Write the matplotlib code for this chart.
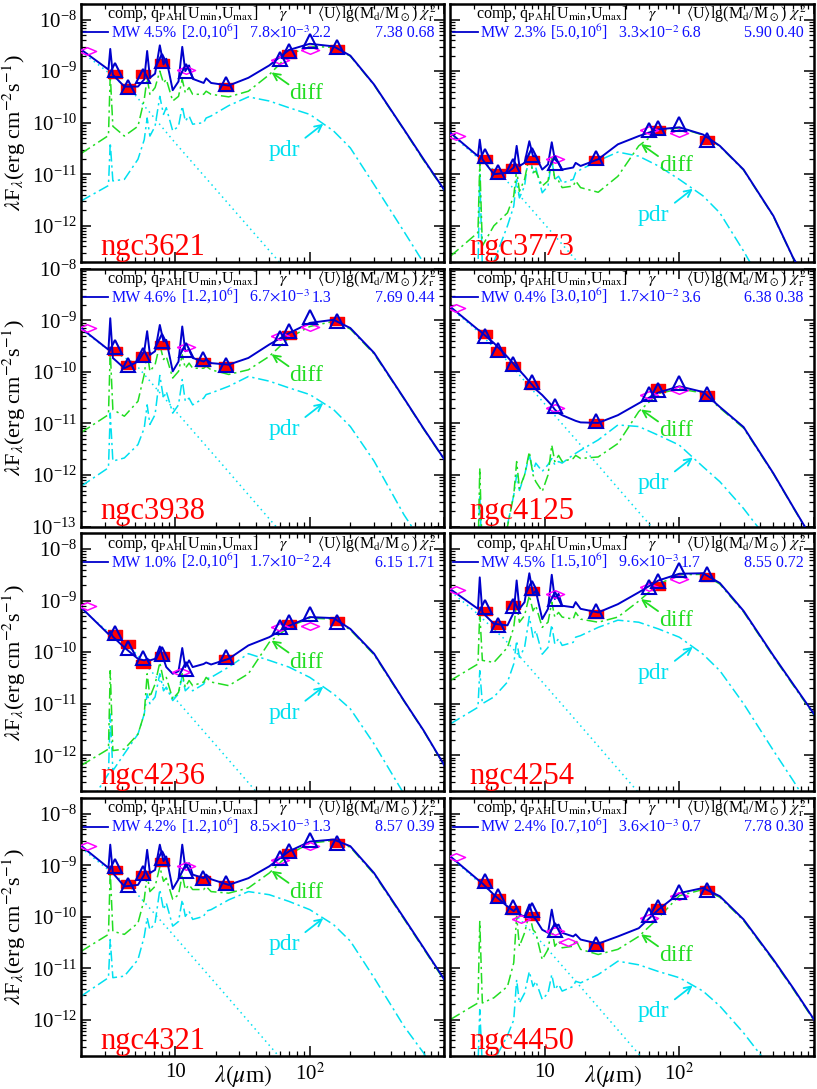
import numpy as np
import matplotlib.pyplot as plt
from matplotlib.lines import Line2D
from matplotlib.ticker import LogLocator, FuncFormatter, NullFormatter

plt.rcParams['font.family'] = ['Liberation Serif', 'DejaVu Serif']
plt.rcParams['mathtext.fontset'] = 'stix'

# wavelength grid (micron) the model curves were read on
wave = [2.0, 3.2, 3.3, 3.45, 4.2, 5.3, 5.9, 6.2, 6.5, 7.1, 7.7, 8.2, 8.6, 9.6, 10.6, 11.3,
        11.9, 12.7, 13.5, 16.3, 17.0, 18.5, 25, 35, 50, 70, 100, 150, 200, 300, 500, 700, 1000]
wave_star = [2, 3, 5, 10, 20, 50, 100]

# photometric bands (micron)
bands_sq = [3.6, 4.5, 5.8, 8.0, 24, 70, 160]
bands_sq16 = [3.6, 4.5, 5.8, 8.0, 16, 24, 70, 160]
bands_tri = [3.6, 4.5, 5.8, 8.0, 12, 24, 60, 70, 100, 160]
bands_tri16 = [3.6, 4.5, 5.8, 8.0, 12, 16, 24, 60, 70, 100, 160]
bands_dia = [2.2, 12, 60, 100]

# all fluxes below are log10(lambda F_lambda / erg cm^-2 s^-1)
# ngc3621
tot_3621 = [-8.58, -8.97, -8.57, -9.07, -9.30, -9.30, -9.16, -8.61, -9.13, -9.05, -8.50, -8.87, -8.76, -9.37, -9.20, -8.53,
            -9.00, -8.89, -9.15, -9.23, -9.14, -9.23, -9.28, -9.13, -8.89, -8.59, -8.47, -8.52, -8.70, -9.26, -10.13, -10.71, -11.31]
diff_3621 = [-10.60, -10.25, -9.07, -10.07, -10.26, -10.07, -9.55, -9.13, -9.45, -9.32, -9.00, -9.23, -9.16, -9.58, -9.49, -9.16,
             -9.42, -9.32, -9.45, -9.45, -9.39, -9.45, -9.50, -9.39, -9.07, -8.68, -8.52, -8.54, -8.71, -9.27, -10.14, -10.73, -11.32]
pdr_3621 = [-11.52, -11.22, -10.39, -11.13, -11.10, -10.71, -10.33, -9.91, -10.26, -10.07, -9.49, -9.84, -9.71, -10.16, -10.07, -9.68,
            -9.97, -9.87, -10.03, -10.00, -9.91, -9.87, -9.67, -9.50, -9.58, -9.71, -9.84, -10.16, -10.49, -11.20, -12.11, -12.72, -13.43]
star_3621 = [-8.62, -8.97, -9.45, -10.39, -11.29, -12.48, -13.38]
sq_3621 = [-9.05, -9.32, -9.05, -8.85, -9.31, -8.66, -8.57]
tri_3621 = [-8.97, -9.30, -9.09, -8.81, -9.00, -9.25, -8.76, -8.61, -8.42, -8.54]
dia_3621 = [-8.61, -8.97, -8.79, -8.59]

# ngc3773
tot_3773 = [-10.20, -10.65, -10.33, -10.71, -11.00, -10.97, -10.87, -10.45, -10.84, -10.78, -10.36, -10.65, -10.65, -10.91, -10.81, -10.38,
            -10.71, -10.78, -10.91, -10.87, -10.78, -10.84, -10.71, -10.42, -10.26, -10.13, -10.09, -10.23, -10.45, -10.91, -11.81, -12.62, -13.30]
diff_3773 = [-12.59, -12.13, -10.78, -12.39, -12.00, -11.75, -11.42, -10.91, -11.33, -11.10, -10.65, -10.97, -10.94, -11.23, -11.13, -10.68,
             -11.10, -11.13, -11.26, -11.23, -11.13, -11.26, -11.35, -11.04, -10.45, -10.16, -10.10, -10.24, -10.46, -10.92, -11.82, -12.63, -13.31]
pdr_3773 = [-13.0, -12.9, -11.0, -12.8, -12.7, -12.0, -11.62, -11.10, -11.46, -11.23, -10.55, -10.97, -10.87, -11.36, -11.23, -10.71,
            -11.10, -11.04, -11.17, -11.10, -10.97, -10.91, -10.74, -10.57, -10.65, -10.84, -11.10, -11.42, -11.75, -12.49, -13.5, -14.0, -14.5]
star_3773 = [-10.22, -10.62, -11.07, -11.97, -12.87, -14.06, -14.96]
sq_3773 = [-10.70, -10.98, -10.87, -10.73, -10.73, -10.14, -10.33]
tri_3773 = [-10.65, -10.96, -10.84, -10.62, -10.79, -10.69, -10.15, -10.10, -10.03, -10.33]
dia_3773 = [-10.26, -10.71, -10.15, -10.20]

# ngc3938
tot_3938 = [-9.15, -9.57, -8.96, -9.73, -9.93, -9.80, -9.60, -9.21, -9.67, -9.60, -9.09, -9.41, -9.38, -9.99, -9.80, -9.12,
            -9.60, -9.57, -9.73, -9.80, -9.76, -9.83, -9.86, -9.73, -9.47, -9.25, -9.05, -8.99, -9.15, -9.63, -10.51, -11.10, -11.70]
diff_3938 = [-11.18, -10.83, -9.60, -10.73, -10.86, -10.57, -10.05, -9.60, -9.99, -9.86, -9.47, -9.76, -9.70, -10.12, -9.99, -9.67,
             -9.93, -9.83, -9.93, -9.93, -9.89, -9.96, -10.05, -9.96, -9.70, -9.34, -9.12, -9.02, -9.17, -9.65, -10.52, -11.11, -11.71]
pdr_3938 = [-12.22, -11.86, -10.80, -11.73, -11.67, -11.41, -11.09, -10.64, -11.02, -10.83, -10.07, -10.51, -10.38, -10.80, -10.64, -10.15,
            -10.57, -10.51, -10.64, -10.51, -10.44, -10.41, -10.28, -10.09, -10.18, -10.31, -10.44, -10.73, -11.06, -11.73, -12.77, -13.35, -14.0]
star_3938 = [-9.17, -9.52, -9.83, -10.75, -11.65, -12.85, -13.75]
sq_3938 = [-9.59, -9.87, -9.70, -9.47, -9.81, -9.89, -9.28, -9.02]
tri_3938 = [-9.51, -9.86, -9.68, -9.41, -9.57, -9.76, -9.86, -9.34, -9.21, -8.94, -9.01]
dia_3938 = [-9.15, -9.52, -9.31, -9.12]

# ngc4125
tot_4125 = [-8.74, -9.18, -9.20, -9.25, -9.44, -9.71, -9.85, -9.92, -9.97, -10.08, -10.19, -10.27, -10.34, -10.45, -10.57, -10.65,
            -10.73, -10.80, -10.84, -10.93, -10.95, -10.98, -10.99, -10.84, -10.61, -10.40, -10.28, -10.39, -10.68, -11.07, -11.97, -12.62, -13.30]
diff_4125 = [-14.0, -13.6, -11.87, -13.6, -13.4, -13.0, -12.39, -11.74, -12.26, -12.00, -11.55, -12.00, -12.13, -12.32, -12.00, -11.42,
             -11.74, -11.62, -11.74, -11.68, -11.62, -11.68, -11.65, -11.39, -10.77, -10.42, -10.33, -10.41, -10.70, -11.09, -11.98, -12.63, -13.31]
pdr_4125 = [-14.0, -13.8, -12.39, -13.8, -13.6, -12.97, -12.39, -12.00, -12.30, -12.00, -11.61, -11.93, -11.77, -11.93, -11.80, -11.68,
            -11.80, -11.74, -11.77, -11.61, -11.58, -11.52, -11.32, -11.03, -11.06, -11.23, -11.42, -11.84, -12.13, -12.65, -13.4, -14.0, -14.5]
star_4125 = [-8.76, -9.15, -9.72, -10.62, -11.52, -12.72, -13.62]
sq_4125 = [-9.27, -9.59, -9.89, -10.26, -10.99, -10.32, -10.45]
tri_4125 = [-9.30, -9.57, -9.85, -10.19, -10.66, -10.95, -10.42, -10.36, -10.22, -10.42]
dia_4125 = [-8.76, -10.71, -10.45, -10.36]

# ngc4236
tot_4236 = [-9.13, -9.65, -9.60, -9.70, -9.91, -10.13, -10.16, -10.13, -10.16, -10.13, -9.89, -10.13, -10.29, -10.42, -10.37, -9.92,
            -10.29, -10.16, -10.29, -10.23, -10.20, -10.24, -10.13, -9.87, -9.71, -9.49, -9.32, -9.34, -9.55, -10.03, -10.94, -11.52, -12.20]
diff_4236 = [-12.20, -11.88, -10.36, -11.91, -11.88, -11.59, -11.20, -10.42, -10.87, -10.62, -10.20, -10.55, -10.49, -10.91, -10.78, -10.42,
             -10.68, -10.55, -10.65, -10.58, -10.49, -10.58, -10.65, -10.42, -9.81, -9.51, -9.34, -9.36, -9.57, -10.05, -10.95, -11.53, -12.21]
pdr_4236 = [-13.2, -12.36, -11.20, -12.30, -11.97, -11.59, -11.20, -10.81, -11.00, -10.87, -10.42, -10.75, -10.68, -10.94, -10.81, -10.45,
            -10.75, -10.68, -10.75, -10.62, -10.52, -10.49, -10.29, -10.03, -10.16, -10.29, -10.49, -10.81, -11.10, -11.78, -12.75, -13.3, -14.0]
star_4236 = [-9.15, -9.55, -10.0, -10.9, -11.8, -13.0, -13.9]
sq_4236 = [-9.65, -9.84, -10.23, -10.07, -10.13, -9.45, -9.39]
tri_4236 = [-9.63, -9.92, -10.11, -10.03, -10.33, -10.09, -9.52, -9.42, -9.27, -9.41]
dia_4236 = [-9.10, -10.39, -9.51, -9.49]

# ngc4254
tot_4254 = [-8.78, -9.16, -8.55, -9.23, -9.45, -9.48, -9.23, -8.61, -9.16, -9.03, -8.47, -8.87, -8.81, -9.36, -9.16, -8.50,
            -8.97, -8.87, -9.10, -9.13, -9.03, -9.16, -9.23, -9.07, -8.84, -8.61, -8.48, -8.47, -8.66, -9.20, -10.07, -10.62, -11.20]
diff_4254 = [-10.55, -10.23, -9.23, -10.16, -10.20, -9.91, -9.52, -9.03, -9.42, -9.29, -8.90, -9.20, -9.10, -9.52, -9.42, -9.03,
             -9.32, -9.23, -9.32, -9.36, -9.23, -9.36, -9.42, -9.32, -9.01, -8.68, -8.50, -8.49, -8.68, -9.22, -10.09, -10.64, -11.22]
pdr_4254 = [-11.39, -11.07, -10.36, -11.00, -10.87, -10.58, -10.23, -9.78, -10.10, -9.91, -9.31, -9.71, -9.58, -10.04, -9.91, -9.47,
            -9.84, -9.74, -9.87, -9.81, -9.71, -9.68, -9.52, -9.38, -9.42, -9.55, -9.71, -10.04, -10.36, -11.00, -11.91, -12.49, -13.14]
star_4254 = [-8.82, -9.2, -9.74, -10.63, -11.53, -12.73, -13.63]
sq_4254 = [-9.21, -9.47, -9.08, -8.81, -9.27, -8.71, -8.54]
tri_4254 = [-9.13, -9.47, -9.10, -8.76, -8.96, -9.20, -8.74, -8.63, -8.41, -8.49]
dia_4254 = [-8.79, -8.87, -8.73, -8.58]

# ngc4321
tot_4321 = [-8.62, -9.05, -8.60, -9.15, -9.41, -9.38, -9.18, -8.70, -9.15, -9.09, -8.60, -8.92, -8.83, -9.46, -9.27, -8.60,
            -9.05, -8.96, -9.18, -9.25, -9.18, -9.27, -9.38, -9.25, -9.02, -8.73, -8.54, -8.50, -8.63, -9.15, -10.02, -10.60, -11.22]
diff_4321 = [-10.67, -10.34, -9.12, -10.28, -10.34, -10.12, -9.66, -9.18, -9.51, -9.41, -9.03, -9.31, -9.25, -9.66, -9.57, -9.18,
             -9.47, -9.38, -9.47, -9.47, -9.41, -9.51, -9.54, -9.44, -9.15, -8.79, -8.57, -8.52, -8.65, -9.17, -10.04, -10.62, -11.24]
pdr_4321 = [-11.54, -11.18, -10.44, -11.18, -11.15, -10.83, -10.38, -10.02, -10.25, -10.12, -9.47, -9.86, -9.73, -10.18, -10.09, -9.67,
            -9.99, -9.89, -10.05, -9.99, -9.89, -9.86, -9.67, -9.51, -9.57, -9.70, -9.86, -10.15, -10.47, -11.18, -12.12, -12.64, -13.4]
star_4321 = [-8.66, -9.03, -9.5, -10.39, -11.29, -12.49, -13.39]
sq_4321 = [-9.09, -9.36, -9.18, -8.94, -9.28, -9.38, -8.76, -8.57]
tri_4321 = [-9.01, -9.38, -9.14, -8.86, -9.12, -9.25, -9.34, -8.86, -8.73, -8.50, -8.56]
dia_4321 = [-8.63, -9.02, -8.89, -8.63]

# ngc4450
tot_4450 = [-8.83, -9.28, -9.31, -9.35, -9.57, -9.80, -9.89, -9.82, -9.96, -9.99, -9.76, -9.99, -10.05, -10.25, -10.31, -9.86,
            -10.18, -10.15, -10.31, -10.38, -10.34, -10.44, -10.52, -10.38, -10.22, -9.86, -9.54, -9.44, -9.60, -10.05, -10.83, -11.38, -11.99]
diff_4450 = [-11.99, -11.67, -10.09, -11.67, -11.57, -11.35, -10.89, -9.99, -10.57, -10.31, -9.93, -10.25, -10.31, -10.83, -10.63, -10.22,
             -10.57, -10.47, -10.60, -10.57, -10.44, -10.63, -10.73, -10.63, -10.38, -10.02, -9.59, -9.47, -9.62, -10.07, -10.85, -11.40, -12.01]
pdr_4450 = [-13.2, -12.9, -11.8, -12.9, -12.8, -12.3, -12.0, -11.22, -11.67, -11.48, -11.06, -11.35, -11.25, -11.60, -11.48, -11.12,
            -11.41, -11.31, -11.44, -11.35, -11.25, -11.28, -11.12, -10.86, -10.93, -11.06, -11.18, -11.44, -11.73, -12.25, -13.0, -13.6, -14.2]
star_4450 = [-8.84, -9.25, -9.72, -10.56, -11.46, -12.66, -13.56]
sq_4450 = [-9.34, -9.63, -9.86, -9.98, -10.57, -9.83, -9.47]
tri_4450 = [-9.31, -9.60, -9.80, -9.86, -10.25, -10.52, -9.96, -9.81, -9.51, -9.47]
dia_4450 = [-8.83, -10.05, -10.27, -10.49, -10.02, -9.60]

galaxies = ['ngc3621', 'ngc3773', 'ngc3938', 'ngc4125', 'ngc4236', 'ngc4254', 'ngc4321', 'ngc4450']
totals = [tot_3621, tot_3773, tot_3938, tot_4125, tot_4236, tot_4254, tot_4321, tot_4450]
diffs = [diff_3621, diff_3773, diff_3938, diff_4125, diff_4236, diff_4254, diff_4321, diff_4450]
pdrs = [pdr_3621, pdr_3773, pdr_3938, pdr_4125, pdr_4236, pdr_4254, pdr_4321, pdr_4450]
stars = [star_3621, star_3773, star_3938, star_4125, star_4236, star_4254, star_4321, star_4450]
sq_vals = [sq_3621, sq_3773, sq_3938, sq_4125, sq_4236, sq_4254, sq_4321, sq_4450]
sq_bands = [bands_sq, bands_sq, bands_sq16, bands_sq, bands_sq, bands_sq, bands_sq16, bands_sq]
tri_vals = [tri_3621, tri_3773, tri_3938, tri_4125, tri_4236, tri_4254, tri_4321, tri_4450]
tri_bands = [bands_tri, bands_tri, bands_tri16, bands_tri, bands_tri, bands_tri, bands_tri16, bands_tri]
dia_vals = [dia_3621, dia_3773, dia_3938, dia_4125, dia_4236, dia_4254, dia_4321, dia_4450]
dia_bands = [bands_dia, bands_dia, bands_dia, bands_dia, [2.2, 11, 60, 100], bands_dia, bands_dia,
             [2.2, 6.7, 12, 15, 60, 100]]

# fit parameters in the panel headers
qpah = [4.5, 2.3, 4.6, 0.4, 1.0, 4.5, 4.2, 2.4]
umin = [2.0, 5.0, 1.2, 3.0, 2.0, 1.5, 1.2, 0.7]
gamma = [7.8e-3, 3.3e-2, 6.7e-3, 1.7e-2, 1.7e-2, 9.6e-3, 8.5e-3, 3.6e-3]
u_mean = [2.2, 6.8, 1.3, 3.6, 2.4, 1.7, 1.3, 0.7]
log_md = [7.38, 5.90, 7.69, 6.38, 6.15, 8.55, 8.57, 7.78]
chi2 = [0.68, 0.40, 0.44, 0.38, 1.71, 0.72, 0.39, 0.30]

row_ylims = [(2e-13, 2e-8), (1e-13, 1e-8), (2e-13, 2e-8), (2e-13, 2e-8)]

C_TOT = '#0000cc'
C_TXT = '#1010ff'
C_DIFF = '#22dd22'
C_PDR = '#00e0f0'
C_DIA = '#ff00ff'
C_SQ = '#ff0000'

rect_marker = [(-1, -0.55), (1, -0.55), (1, 0.55), (-1, 0.55), (-1, -0.55)]
dia_marker = [(-1, 0), (0, 0.42), (1, 0), (0, -0.42), (-1, 0)]
dashdot = (0, (7, 2.5, 1.5, 2.5))
HS = 11.5  # header font size


def pw(vals):
    return 10.0 ** np.asarray(vals, dtype=float)


def xfmt(v, pos):
    return {10: '10', 100: r'10$^2$'}.get(int(round(v)), '')


fig = plt.figure(figsize=(8.17, 10.89), dpi=100)
gs = fig.add_gridspec(4, 2, left=0.0991, right=0.9963, top=0.9963, bottom=0.0303,
                      wspace=0.0165, hspace=0.027)

for i, name in enumerate(galaxies):
    row, col = divmod(i, 2)
    ax = fig.add_subplot(gs[row, col])
    ax.set_xscale('log')
    ax.set_yscale('log')

    ax.plot(wave_star, pw(stars[i]), color=C_PDR, lw=1.1, ls=(0, (1, 2.5)), zorder=2)
    ax.plot(wave, pw(pdrs[i]), color=C_PDR, lw=1.1, ls=dashdot, zorder=2)
    ax.plot(wave, pw(diffs[i]), color=C_DIFF, lw=1.1, ls=dashdot, zorder=2.5)
    ax.plot(sq_bands[i], pw(sq_vals[i]), ls='none', marker=rect_marker, ms=10.5,
            mfc=C_SQ, mec=C_SQ, zorder=3)
    ax.plot(wave, pw(totals[i]), color=C_TOT, lw=1.4, zorder=4)
    ax.plot(dia_bands[i], pw(dia_vals[i]), ls='none', marker=dia_marker, ms=13,
            mfc='none', mec=C_DIA, mew=1.1, zorder=5)
    ax.plot(tri_bands[i], pw(tri_vals[i]), ls='none', marker='^', ms=10,
            mfc='none', mec=C_TOT, mew=1.5, zorder=6)

    lo, hi = row_ylims[row]

    # arrows to the components
    lw_log = np.log10(wave)
    y_diff = 10 ** np.interp(np.log10(52), lw_log, diffs[i])
    y_pdr = 10 ** np.interp(np.log10(126), lw_log, pdrs[i])
    ax.annotate('', xy=(52, y_diff), xytext=(17, -12), textcoords='offset pixels',
                arrowprops=dict(arrowstyle='->,head_length=0.5,head_width=0.25', color=C_DIFF,
                                lw=1.3, shrinkA=0, shrinkB=0), zorder=7)
    ax.annotate('diff', xy=(52, y_diff), xytext=(18, -27), textcoords='offset pixels',
                color=C_DIFF, fontsize=17, va='baseline', ha='left')
    ax.annotate('', xy=(126, y_pdr), xytext=(-18, -14), textcoords='offset pixels',
                arrowprops=dict(arrowstyle='->,head_length=0.5,head_width=0.25', color=C_PDR,
                                lw=1.3, shrinkA=0, shrinkB=0), zorder=7)
    ax.annotate('pdr', xy=(126, y_pdr), xytext=(-39, -32), textcoords='offset pixels',
                color=C_PDR, fontsize=17, va='baseline', ha='center')

    # header
    tr = ax.transAxes
    ax.text(0.071, 0.945, r'comp, q$_{\rm PAH}$[U$_{\rm min}$,U$_{\rm max}$]', transform=tr,
            fontsize=HS, va='baseline')
    ax.text(0.557, 0.945, r'$\gamma$', transform=tr, fontsize=HS, va='baseline', ha='center')
    ax.text(0.649, 0.945, r'$\langle$U$\rangle$lg(M$_{\rm d}$/M$_\odot$)', transform=tr,
            fontsize=HS, va='baseline')
    ax.text(0.978, 0.945, r'$\chi^2_{\rm r}$', transform=tr, fontsize=HS, va='baseline', ha='right')

    ax.add_line(Line2D([0.006, 0.075], [0.89, 0.89], transform=tr, color=C_TOT, lw=1.3))
    expo = int(np.floor(np.log10(gamma[i])))
    mant = gamma[i] / 10.0 ** expo
    ax.text(0.084, 0.871, 'MW', transform=tr, color=C_TXT, fontsize=HS, va='baseline')
    ax.text(0.172, 0.871, '%.1f%%' % qpah[i], transform=tr, color=C_TXT, fontsize=HS, va='baseline')
    ax.text(0.275, 0.871, r'[%.1f,10$^6$]' % umin[i], transform=tr, color=C_TXT, fontsize=HS,
            va='baseline')
    ax.text(0.462, 0.871, r'%.1f$\times$10$^{%d}$' % (mant, expo), transform=tr, color=C_TXT,
            fontsize=HS, va='baseline')
    ax.text(0.634, 0.871, '%.1f' % u_mean[i], transform=tr, color=C_TXT, fontsize=HS, va='baseline')
    ax.text(0.972, 0.871, '%.2f %.2f' % (log_md[i], chi2[i]), transform=tr, color=C_TXT,
            fontsize=HS, va='baseline', ha='right')

    ax.text(0.052, 0.028, name, transform=tr, color='red', fontsize=22, va='baseline')

    # axes styling
    for sp in ax.spines.values():
        sp.set_linewidth(1.8)
    ax.set_yticks([t for t in 10.0 ** np.arange(-13, -7) if lo * 0.999 <= t <= hi * 1.001])
    ax.set_xticks([10, 100, 1000])
    ax.yaxis.set_minor_locator(LogLocator(base=10, subs=np.arange(2, 10), numticks=20))
    ax.xaxis.set_minor_locator(LogLocator(base=10, subs=np.arange(2, 10), numticks=20))
    ax.yaxis.set_minor_formatter(NullFormatter())
    ax.xaxis.set_minor_formatter(NullFormatter())
    ax.set_xlim(2, 1000)
    ax.set_ylim(lo, hi)
    ax.tick_params(which='both', direction='in', top=True, right=True, labelsize=15)
    ax.tick_params(which='major', length=7, width=1.1)
    ax.tick_params(which='minor', length=3.5, width=0.9)
    ax.tick_params(axis='y', pad=3)
    ax.tick_params(axis='x', pad=5)
    if col == 1:
        ax.yaxis.set_major_formatter(NullFormatter())
    if row == 3:
        ax.xaxis.set_major_formatter(FuncFormatter(xfmt))
        ax.text(0.447, -0.102, r'$\lambda(\mu$m$)$', transform=tr, fontsize=17,
                va='baseline', ha='center')
    else:
        ax.xaxis.set_major_formatter(NullFormatter())
    if col == 0:
        pos = ax.get_position()
        fig.text(14 / 817, pos.y0 + pos.height / 2,
                 r'$\lambda$F$_\lambda$(erg cm$^{-2}$s$^{-1}$)', rotation=90,
                 ha='center', va='center', fontsize=16)

fig.savefig('out.png', dpi=100)
